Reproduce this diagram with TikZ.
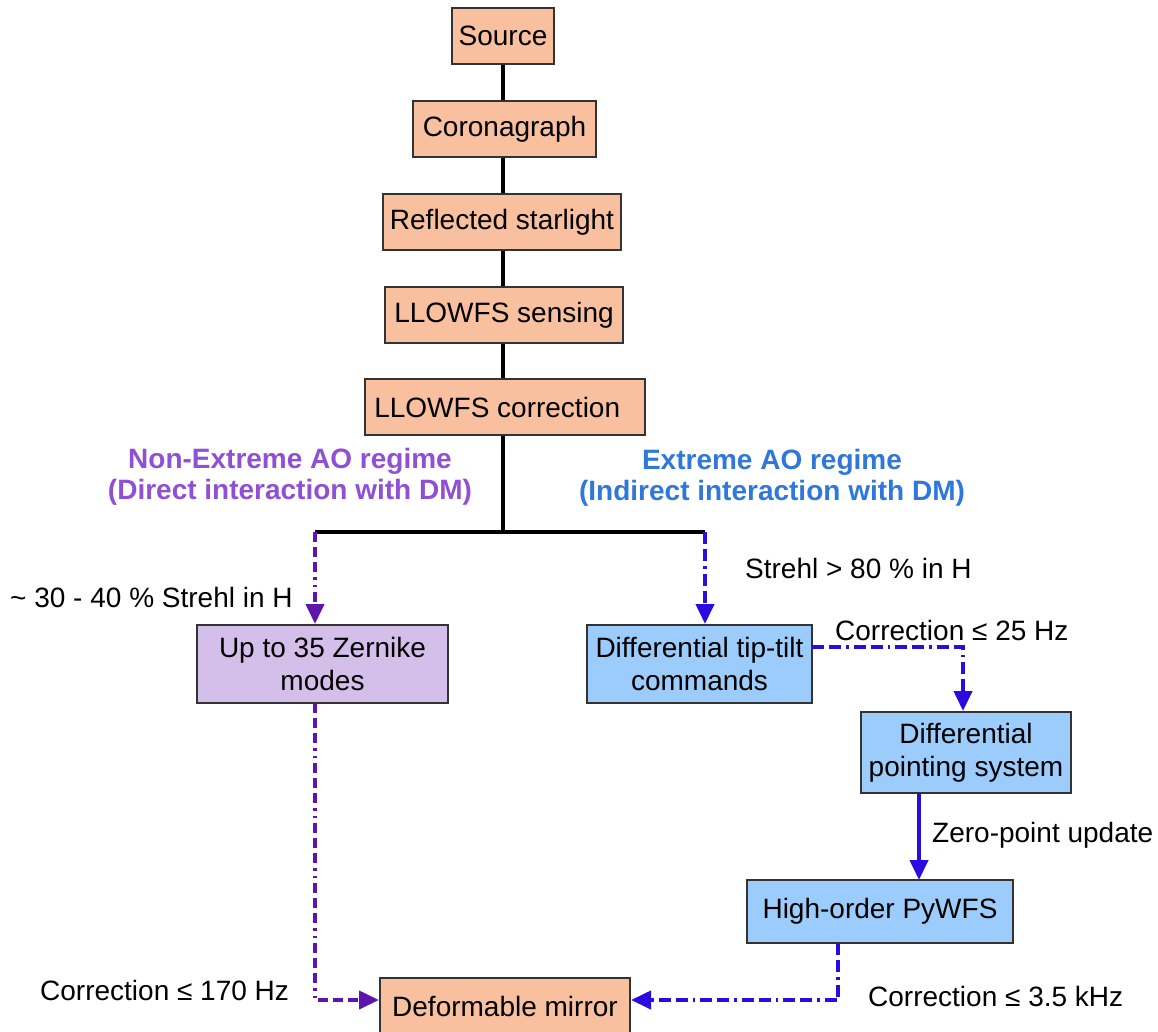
\documentclass[tikz,border=0pt]{standalone}
\usepackage{fontspec}
\setmainfont{Liberation Sans}
\usetikzlibrary{arrows.meta}
\definecolor{peach}{HTML}{F9C09F}
\definecolor{lav}{HTML}{D4BFEA}
\definecolor{sky}{HTML}{9CCCFC}
\definecolor{edge}{HTML}{333333}
\definecolor{pline}{HTML}{5E14AE}
\definecolor{bline}{HTML}{2A0CE0}
\definecolor{ptext}{HTML}{9050D4}
\definecolor{btext}{HTML}{2F78DA}
\begin{document}
\begin{tikzpicture}[x=1pt,y=-1pt,
  every node/.style={font=\fontsize{28}{33}\selectfont},
  box/.style={draw=edge,line width=2pt,inner sep=0pt,align=center},
  orbox/.style={box,fill=peach},
  lvbox/.style={box,fill=lav},
  blbox/.style={box,fill=sky},
  trunk/.style={line width=4pt,black},
  tip/.style={-{Triangle[length=20pt,width=18pt]}},
  purpleflow/.style={tip,line width=4pt,pline,
    dash pattern=on 10pt off 5pt on 10pt off 5pt on 10pt off 5pt on 2.5pt off 5pt on 2.5pt off 5pt},
  blueflow/.style={tip,line width=4pt,bline,
    dash pattern=on 12pt off 5pt on 12pt off 5pt on 2.5pt off 5pt},
  lbl/.style={anchor=west,inner sep=0pt},
  regime/.style={align=center,inner sep=0pt,font=\fontsize{28}{31}\selectfont\bfseries}
]
\useasboundingbox (0,0) rectangle (1158,1032);
\fill[white] (0,0) rectangle (1158,1032);

% main chain
\node[orbox,minimum width=102pt,minimum height=56pt] (src)  at (503,36)   {Source};
\node[orbox,minimum width=183pt,minimum height=56pt] (cor)  at (504.5,129) {Coronagraph};
\node[orbox,minimum width=238pt,minimum height=56pt] (refl) at (502,222)  {Reflected starlight};
\node[orbox,minimum width=238pt,minimum height=56pt] (sens) at (504,315)  {LLOWFS sensing};
\node[orbox,minimum width=280pt,minimum height=56pt] (corr) at (505,407)  {LLOWFS correction\ \ };

% branches
\node[lvbox,minimum width=251pt,minimum height=78pt] (zern) at (322.5,664) {Up to 35 Zernike\\modes};
\node[blbox,minimum width=225pt,minimum height=78pt] (dtt)  at (699.5,664) {Differential tip-tilt\\commands};
\node[blbox,minimum width=210pt,minimum height=81pt] (dps)  at (966,752.5) {Differential\\pointing system};
\node[blbox,minimum width=266pt,minimum height=63pt] (pyw)  at (880,911.5) {High-order PyWFS};
\node[orbox,minimum width=250pt,minimum height=56pt] (dm)   at (505,1006)  {Deformable mirror};

% junction points
\coordinate (bar)  at (503,532);
\coordinate (barL) at (315,532);
\coordinate (barR) at (705,532);
\coordinate (ttk)  at (963,647);
\coordinate (ttL)  at (812,647);
\coordinate (zdn)  at (315,1000);
\coordinate (pdn)  at (838,1000);
\coordinate (pup)  at (838,943);
\coordinate (zup)  at (315,703);

% trunk
\draw[trunk] (src.south -| bar) -- (cor.north -| bar);
\draw[trunk] (cor.south -| bar) -- (refl.north -| bar);
\draw[trunk] (refl.south -| bar) -- (sens.north -| bar);
\draw[trunk] (sens.south -| bar) -- (corr.north -| bar);
\draw[trunk] (corr.south -| bar) -- (bar);
\draw[trunk] (barL) -- (barR);

% regime labels
\node[regime,text=ptext] (nxr) at (290,477) {Non-Extreme AO regime\\(Direct interaction with DM)};
\node[regime,text=btext] (xr)  at (772,478) {Extreme AO regime\\(Indirect interaction with DM)};

% flows
\draw[purpleflow] (barL) -- (barL |- zern.north);
\draw[blueflow] (barR) -- (barR |- dtt.north);
\draw[blueflow] (ttL) -- (ttk) -- (ttk |- dps.north);
\draw[tip,line width=4pt,bline] (919,793) -- (919,880);
\draw[blueflow] (pup) -- (pdn) -- (dm.east |- pdn);
\draw[purpleflow] (zup) -- (zdn) -- (dm.west |- zdn);

% annotations
\node[lbl] (s1) at (10,597)  {\textasciitilde{} 30 - 40 \% Strehl in H};
\node[lbl] (s2) at (745,568) {Strehl > 80 \% in H};
\node[lbl] (c1) at (835,630) {Correction ≤ 25 Hz};
\node[lbl] (zp) at (932,835) {Zero-point update};
\node[lbl] (c2) at (40,990)  {Correction ≤ 170 Hz};
\node[lbl] (c3) at (868,996) {Correction ≤ 3.5 kHz};
\end{tikzpicture}
\end{document}
